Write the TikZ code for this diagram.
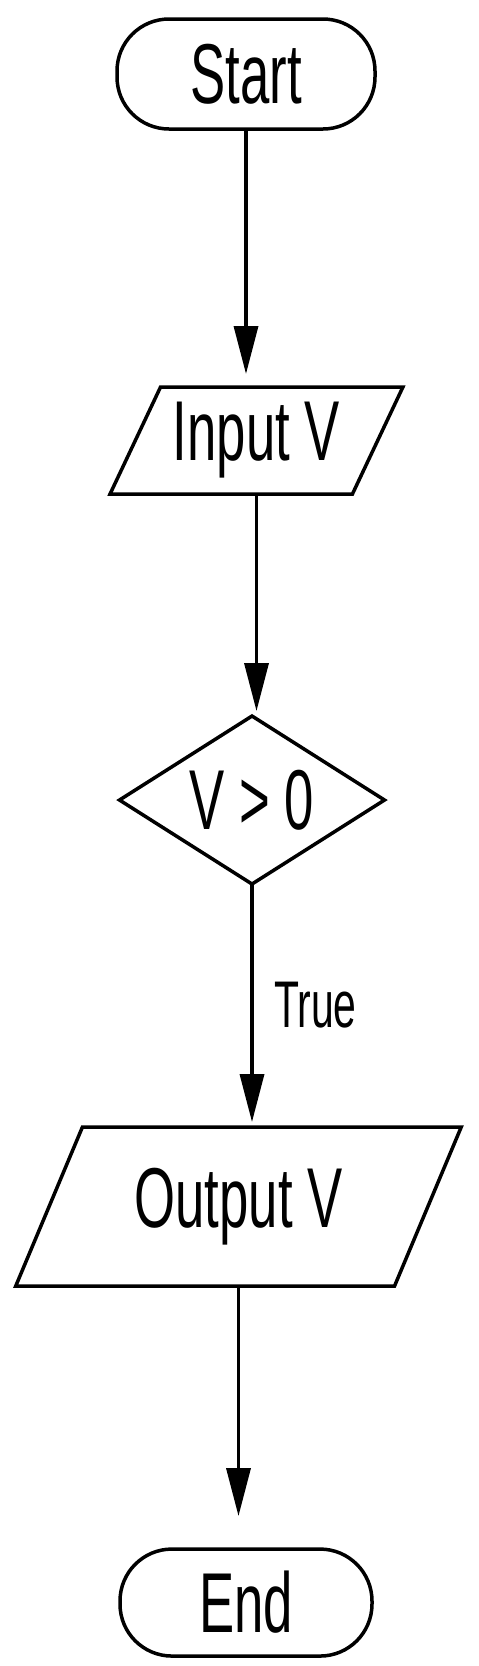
\documentclass[tikz,border=0pt]{standalone}
\usepackage{fontspec}
\newfontfamily\handfont[FakeStretch=0.62]{Liberation Sans}
\usepackage{tikz}
\usetikzlibrary{arrows.meta,positioning,shapes.geometric}

\begin{document}
\begin{tikzpicture}[
  x=1pt, y=-1pt,
  every node/.style={align=center,inner sep=0pt,outer sep=0pt},
  big/.style={font=\handfont\fontsize{85pt}{90pt}\selectfont},
  terminal/.style={big,draw,line width=3.5pt,rounded corners=52pt,minimum width=258pt,minimum height=110pt},
  io/.style={big,draw,line width=3.5pt,trapezium,trapezium left angle=60,trapezium right angle=120,trapezium stretches=true},
  decision/.style={big,draw,line width=3.5pt,diamond,shape aspect=1.6,minimum width=265pt,minimum height=168pt},
  lbl/.style={font=\handfont\fontsize{66pt}{70pt}\selectfont},
  arr/.style={-{Triangle[width=24pt,length=48pt]},line width=3.5pt,shorten >=5pt}
]
\fill[white] (0,0) rectangle (479,1666);
\useasboundingbox (0,0) rectangle (479,1666);

\node[terminal] (start) at (246,74) {Start};
\node[io, minimum width=293pt, minimum height=107pt, below=258pt of start, xshift=10.5pt] (inp) {Input V};
\node[decision, below=222pt of inp, xshift=-4.5pt] (dec) {V > 0};
\node[io, minimum width=447pt, minimum height=159pt, below=243pt of dec, xshift=-13.5pt] (outp) {Output V};
\node[terminal, minimum width=252pt, minimum height=107pt, below=263pt of outp, xshift=7.5pt] (end) {End};

\draw[arr, shorten >=13pt] (start.south) -- (start.south |- inp.north);
\draw[arr] (inp.south) -- (inp.south |- dec.north);
\draw[arr] (dec.south) -- node[lbl, right=22pt] {True} (dec.south |- outp.north);
\draw[arr, shorten >=33pt] (outp.south) -- (outp.south |- end.north);
\end{tikzpicture}
\end{document}
